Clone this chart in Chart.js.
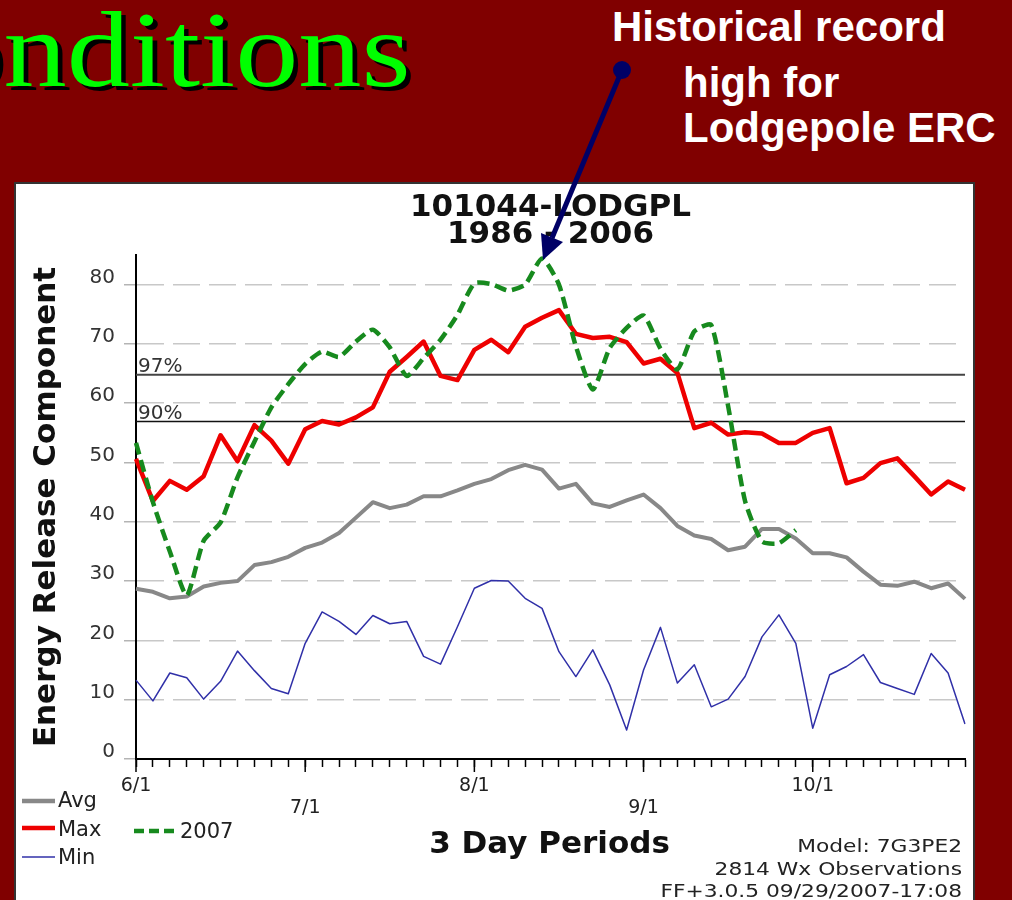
<!DOCTYPE html>
<html>
<head>
<meta charset="utf-8">
<script src="https://cdn.jsdelivr.net/npm/chart.js@4.4.1/dist/chart.umd.min.js"></script>
<style>
  html, body { margin: 0; padding: 0; }
  body { width: 1012px; height: 900px; background: #800000; position: relative; overflow: hidden; }
  #slideTitle { position: absolute; top: -4px; left: -145px; font: 108px/108px "Liberation Serif", serif; color: #00ff00;
    text-shadow: 4px 4px 0 #000; transform: scaleX(1.17); transform-origin: 0 0; white-space: nowrap; }
  .note { position: absolute; color: #fff; font: bold 42px/42px "Liberation Sans", Arial, sans-serif; white-space: nowrap; }
  #panel { position: absolute; left: 16px; top: 184px; width: 957px; height: 716px; background: #fff; outline: 2px solid #333; }
  #arrow { position: absolute; left: 0; top: 0; z-index: 3; }
</style>
</head>
<body>
<div id="slideTitle">Conditions</div>
<div class="note" style="left:612px; top:6px">Historical record</div>
<div class="note" style="left:683px; top:62px">high for</div>
<div class="note" style="left:683px; top:107px">Lodgepole ERC</div>

<div id="panel"><canvas id="ercChart"></canvas></div>

<svg id="arrow" width="1012" height="900">
  <line x1="622" y1="70" x2="552" y2="238" stroke="#000066" stroke-width="5"/>
  <polygon points="543,260 563,242 541,233" fill="#000066"/>
  <circle cx="622" cy="70" r="9" fill="#000066"/>
</svg>

<script>
// ERC per 3 day period, 6/1 .. 10/31
const avgErc = [28.7, 28.2, 27.1, 27.4, 29.1, 29.7, 30.0, 32.7, 33.2, 34.1,
                35.6, 36.5, 38.1, 40.7, 43.3, 42.3, 42.9, 44.3, 44.3, 45.3,
                46.4, 47.2, 48.7, 49.6, 48.8, 45.6, 46.4, 43.1, 42.5, 43.6,
                44.6, 42.3, 39.3, 37.7, 37.1, 35.2, 35.8, 38.8, 38.8, 37.2,
                34.7, 34.7, 34.0, 31.6, 29.4, 29.2, 29.9, 28.8, 29.6, 27.0];
const maxErc = [50.6, 43.5, 46.9, 45.4, 47.7, 54.6, 50.2, 56.3, 53.7, 49.8,
                55.6, 57.0, 56.4, 57.6, 59.3, 65.3, 67.8, 70.4, 64.6, 63.9,
                69.0, 70.7, 68.6, 72.9, 74.4, 75.7, 71.7, 71.0, 71.2, 70.3,
                66.7, 67.5, 65.1, 55.8, 56.7, 54.7, 55.1, 54.9, 53.3, 53.3,
                55.0, 55.8, 46.5, 47.4, 49.9, 50.7, 47.7, 44.6, 46.8, 45.4];
const minErc = [13.3, 9.8, 14.5, 13.7, 10.1, 13.1, 18.2, 14.9, 11.9, 11.0,
                19.5, 24.8, 23.2, 21.0, 24.2, 22.8, 23.2, 17.3, 16.0, 22.3,
                28.8, 30.1, 30.0, 27.1, 25.4, 18.1, 13.9, 18.4, 12.5, 4.9,
                15.0, 22.2, 12.8, 15.9, 8.8, 10.1, 13.9, 20.6, 24.3, 19.5,
                5.2, 14.2, 15.6, 17.6, 12.9, 11.9, 10.9, 17.8, 14.5, 5.9];
const erc2007 = [53.3, 43.3, 35.0, 27.6, 36.8, 39.9, 47.5, 53.5, 59.3, 63.2,
                 66.6, 68.7, 67.8, 70.4, 72.4, 69.4, 64.6, 67.6, 70.7, 74.9,
                 80.2, 80.1, 79.0, 80.0, 84.4, 80.0, 69.6, 62.3, 69.3, 72.7,
                 74.8, 69.2, 65.7, 72.1, 73.2, 59.5, 43.5, 36.7, 36.4, 38.6];

const periodCount = 50;
const monthLabels = ['6/1', '7/1', '8/1', '9/1', '10/1'];
const monthIndex = [0, 10, 20, 30, 40];
const pct97 = 64.8;
const pct90 = 56.9;

// month labels alternate between two rows
const labels = [];
for (let i = 0; i < periodCount; i++) {
  const m = monthIndex.indexOf(i);
  if (m < 0) labels.push('');
  else labels.push(m % 2 ? ['', monthLabels[m]] : [monthLabels[m]]);
}

// slide heading, only "nditions" shows
const tctx = document.createElement('canvas').getContext('2d');
tctx.font = '108px "Liberation Serif"';
document.getElementById('slideTitle').style.left = (3 - tctx.measureText('Co').width * 1.17) + 'px';

Chart.defaults.font.family = '"DejaVu Sans", sans-serif';
Chart.defaults.color = '#222';

const extras = {
  id: 'extras',
  beforeDatasetsDraw(chart) {
    const {ctx, chartArea: a, scales: {y}} = chart;
    ctx.save();
    [[pct97, '97%', 2, '#444'], [pct90, '90%', 1.5, '#111']].forEach(([v, txt, w, c]) => {
      const py = y.getPixelForValue(v);
      ctx.strokeStyle = c;
      ctx.lineWidth = w;
      ctx.beginPath();
      ctx.moveTo(a.left, py);
      ctx.lineTo(a.right, py);
      ctx.stroke();
      ctx.fillStyle = '#333';
      ctx.font = '20px "DejaVu Sans"';
      ctx.fillText(txt, a.left + 2, py - 3);
    });
    ctx.restore();
  },
  afterDraw(chart) {
    const {ctx, chartArea: a, scales: {x}} = chart;
    ctx.save();
    ctx.strokeStyle = '#000';
    ctx.lineWidth = 1.5;
    monthIndex.forEach(i => {
      const px = x.getPixelForValue(i);
      ctx.beginPath();
      ctx.moveTo(px, a.bottom);
      ctx.lineTo(px, a.bottom + 13);
      ctx.stroke();
    });

    ctx.fillStyle = '#111';
    ctx.font = 'bold 31px "DejaVu Sans"';
    ctx.textAlign = 'center';
    ctx.fillText('3 Day Periods', (a.left + a.right) / 2 - 1, a.bottom + 94);

    // legend
    const legend = [
      ['Avg', '#888', 4.5, [], 6, 39, 617, 42, 623],
      ['Max', '#ee0000', 4.5, [], 6, 39, 644, 42, 652],
      ['Min', '#3030a8', 1.5, [], 6, 39, 673, 42, 680],
      ['2007', '#178a1e', 4.5, [10, 5], 118, 162, 647, 164, 654]
    ];
    ctx.textAlign = 'left';
    ctx.font = '21px "DejaVu Sans"';
    legend.forEach(([txt, c, w, dash, x0, x1, ly, tx, ty]) => {
      ctx.strokeStyle = c;
      ctx.lineWidth = w;
      ctx.setLineDash(dash);
      ctx.beginPath();
      ctx.moveTo(x0, ly);
      ctx.lineTo(x1, ly);
      ctx.stroke();
      ctx.fillStyle = '#222';
      ctx.fillText(txt, tx, ty);
    });
    ctx.setLineDash([]);

    // footer notes
    ctx.font = '17px "DejaVu Sans"';
    ctx.textAlign = 'right';
    [['Model: 7G3PE2', 668], ['2814 Wx Observations', 691], ['FF+3.0.5 09/29/2007-17:08', 713]].forEach(([txt, by]) => {
      ctx.save();
      ctx.translate(946, by);
      ctx.scale(1.28, 1);
      ctx.fillText(txt, 0, 0);
      ctx.restore();
    });
    ctx.restore();
  }
};

new Chart(document.getElementById('ercChart'), {
  type: 'line',
  data: {
    labels: labels,
    datasets: [
      { label: '2007', data: erc2007, borderColor: '#178a1e', borderWidth: 4.5, borderDash: [12, 6], tension: 0.2 },
      { label: 'Max', data: maxErc, borderColor: '#ee0000', borderWidth: 4.5 },
      { label: 'Avg', data: avgErc, borderColor: '#888', borderWidth: 4 },
      { label: 'Min', data: minErc, borderColor: '#3030a8', borderWidth: 1.5 }
    ]
  },
  options: {
    responsive: true,
    maintainAspectRatio: false,
    animation: false,
    events: [],
    elements: { point: { radius: 0 }, line: { borderJoinStyle: 'round', fill: false } },
    layout: { padding: { left: 0, right: 8, top: 0, bottom: 0 } },
    plugins: {
      legend: { display: false },
      tooltip: { enabled: false },
      title: {
        display: true,
        fullSize: false,
        text: ['101044-LODGPL', '1986 - 2006'],
        color: '#111',
        font: { size: 31, weight: 'bold', lineHeight: 0.87 },
        padding: { top: 10, bottom: 7 }
      }
    },
    scales: {
      x: {
        offset: false,
        grid: { drawOnChartArea: false, drawTicks: true, tickLength: 8, tickColor: '#000', tickWidth: 1.5 },
        border: { color: '#000', width: 2 },
        ticks: { autoSkip: false, maxRotation: 0, minRotation: 0, padding: 8, color: '#222', font: { size: 19, lineHeight: 1.15 } },
        afterFit: s => { s.height = 141; }
      },
      y: {
        min: 0,
        max: 85,
        ticks: {
          stepSize: 10,
          includeBounds: false,
          padding: 9,
          color: '#333',
          font: { size: 20, lineHeight: 0.7 },
          callback: v => [String(v), '']
        },
        grid: { color: '#c8c8c8', lineWidth: 1.5, tickLength: 12, tickColor: '#b4b4b4', tickWidth: 1.5 },
        border: { color: '#000', width: 2, dash: [27, 9] },
        title: {
          display: true,
          text: 'Energy Release Component',
          color: '#111',
          font: { size: 31, weight: 'bold', lineHeight: 1.2 },
          padding: { top: 12, bottom: 0 }
        },
        afterFit: s => { s.width = 120; }
      }
    }
  },
  plugins: [extras]
});
</script>
</body>
</html>
